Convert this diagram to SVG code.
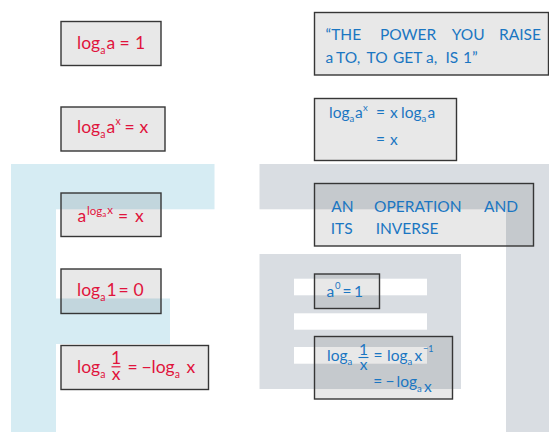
<svg xmlns="http://www.w3.org/2000/svg" width="549" height="432" viewBox="0 0 549 432">
<style>
.box{fill:#000;fill-opacity:0.09;stroke:#363636;stroke-width:1.4}
text{font-family:Lato,"Open Sans",sans-serif}
.r{fill:#e0143c;font-size:17.5px}
.b{fill:#1a76c2;font-size:15.5px}
.bc{fill:#1a76c2;font-size:15.5px}
.rs{font-size:10.5px}
.bs{font-size:9.5px}
.fr{stroke:#e0143c;stroke-width:1.2}
.fb{stroke:#1a76c2;stroke-width:1.1}
</style>
<g id="watermark">
<g fill="#d6ecf3">
<rect x="11" y="164" width="45" height="268"/>
<rect x="11" y="164" width="203.5" height="45.3"/>
<rect x="11" y="298.5" width="159" height="45.5"/>
</g>
<g fill="#d9dde2">
<rect x="259.5" y="164" width="289.5" height="45.3"/>
<rect x="506" y="164" width="43" height="268"/>
<rect x="259.5" y="254" width="201.5" height="135"/>
</g>
<g fill="#ffffff">
<rect x="294" y="278.7" width="133" height="16.6"/>
<rect x="294" y="313.3" width="133" height="16.4"/>
<rect x="294" y="347" width="133" height="16.7"/>
</g>
</g>
<g id="connectors"/>
<g id="n1">
<rect class="box" x="61" y="21.5" width="100" height="44"/>
<text class="r" y="49"><tspan x="77">log</tspan><tspan class="rs" x="100.3" y="54">a</tspan><tspan x="106.5" y="49">a</tspan><tspan x="119.5">=</tspan><tspan x="135">1</tspan></text>
</g>
<g id="n2">
<rect class="box" x="61" y="107" width="104" height="44"/>
<text class="r" y="133"><tspan x="77">log</tspan><tspan class="rs" x="100.3" y="138">a</tspan><tspan x="106.5" y="133">a</tspan><tspan class="rs" x="115.5" y="125">x</tspan><tspan x="124.5" y="133">=</tspan><tspan x="139.5">x</tspan></text>
</g>
<g id="n3">
<rect class="box" x="61" y="193" width="100" height="43.5"/>
<text class="r" y="222"><tspan x="77.5">a</tspan><tspan font-size="11.5" x="87" y="214.5">log</tspan><tspan font-size="8" x="102.3" y="217">a</tspan><tspan font-size="11.5" x="107.3" y="213.5">x</tspan><tspan x="118" y="222">=</tspan><tspan x="135">x</tspan></text>
</g>
<g id="n4">
<rect class="box" x="61" y="269" width="100" height="44.5"/>
<text class="r" y="296"><tspan x="77">log</tspan><tspan class="rs" x="100.3" y="301">a</tspan><tspan x="106.5" y="296">1</tspan><tspan x="118.5">=</tspan><tspan x="133.5">0</tspan></text>
</g>
<g id="n5">
<rect class="box" x="61" y="345.5" width="147.5" height="44"/>
<text class="r" y="372.7"><tspan x="77">log</tspan><tspan class="rs" x="100.3" y="378">a</tspan><tspan x="127.5" y="372.7">=</tspan><tspan x="141.5">−</tspan><tspan x="151.5">log</tspan><tspan class="rs" x="174.8" y="378">a</tspan><tspan x="186.5" y="372.7">x</tspan></text>
<text class="r" font-size="13" text-anchor="middle" x="116" y="364">1</text>
<line class="fr" x1="111.5" y1="366.8" x2="120.5" y2="366.8"/>
<text class="r" font-size="13" text-anchor="middle" x="116" y="379.5">x</text>
</g>
<g id="r1">
<rect class="box" x="314.5" y="12.5" width="234" height="62.5"/>
<text class="bc" y="40"><tspan x="325.5">“THE</tspan><tspan x="380">POWER</tspan><tspan x="451.7">YOU</tspan><tspan x="499">RAISE</tspan></text>
<text class="bc" y="63.3"><tspan x="325.5">a</tspan><tspan x="336">TO,</tspan><tspan x="366.5">TO</tspan><tspan x="393">GET</tspan><tspan x="426">a,</tspan><tspan x="445.5">IS</tspan><tspan x="463">1”</tspan></text>
</g>
<g id="r2">
<rect class="box" x="314.5" y="98.5" width="142" height="62"/>
<text class="b" y="118"><tspan x="329">log</tspan><tspan class="bs" x="349.5" y="122">a</tspan><tspan x="355" y="118">a</tspan><tspan class="bs" x="363" y="111">x</tspan><tspan x="376" y="118">=</tspan><tspan x="390">x</tspan><tspan x="401">log</tspan><tspan class="bs" x="421.5" y="122">a</tspan><tspan x="427.5" y="118">a</tspan></text>
<text class="b" y="145"><tspan x="376">=</tspan><tspan x="390">x</tspan></text>
</g>
<g id="r3">
<rect class="box" x="314.5" y="183.5" width="219" height="62.5"/>
<text class="bc" y="212"><tspan x="331.3">AN</tspan><tspan x="374">OPERATION</tspan><tspan x="484">AND</tspan></text>
<text class="bc" y="234.3"><tspan x="330.7">ITS</tspan><tspan x="375.7">INVERSE</tspan></text>
</g>
<g id="r4">
<rect class="box" x="314.5" y="274" width="65" height="34.5"/>
<text class="b" y="296.7"><tspan x="326.5">a</tspan><tspan class="bs" x="335" y="289">0</tspan><tspan x="342.5" y="296.7">=</tspan><tspan x="354">1</tspan></text>
</g>
<g id="r5">
<rect class="box" x="314.5" y="336.5" width="138" height="62.5"/>
<text class="b" y="360.7"><tspan x="327">log</tspan><tspan class="bs" x="347.5" y="365">a</tspan><tspan x="373.5" y="360.7">=</tspan><tspan x="387">log</tspan><tspan class="bs" x="407.5" y="365">a</tspan><tspan x="414.5" y="360.7">x</tspan><tspan font-size="9" x="423" y="352">−1</tspan></text>
<text class="b" font-size="12" text-anchor="middle" x="363.5" y="354.5">1</text>
<line class="fb" x1="358.5" y1="357.5" x2="368.5" y2="357.5"/>
<text class="b" font-size="12" text-anchor="middle" x="363.5" y="369.5">x</text>
<text class="b" y="387.3"><tspan x="373.3">=</tspan><tspan x="385.5">−</tspan><tspan x="396.5">log</tspan><tspan class="bs" x="417" y="391.5">a</tspan><tspan x="424">x</tspan></text>
</g>
</svg>
